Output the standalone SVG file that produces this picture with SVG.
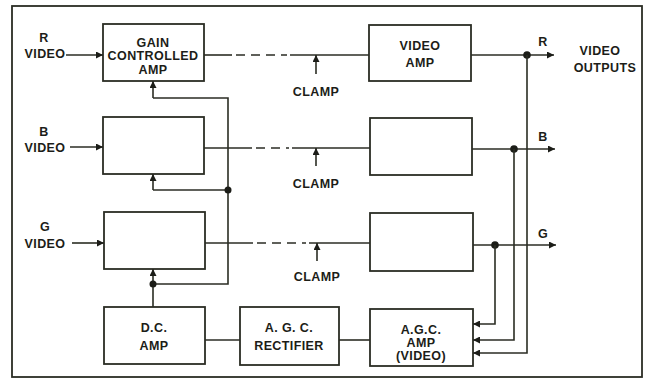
<svg xmlns="http://www.w3.org/2000/svg" width="646" height="379" viewBox="0 0 646 379">
<defs>
<style>
.box{fill:none;stroke:#2b2d24;stroke-width:1.8}
.ln{fill:none;stroke:#2b2d24;stroke-width:1.6}
.dash{fill:none;stroke:#2b2d24;stroke-width:1.6;stroke-dasharray:9 6}
.t{font-family:"Liberation Sans",Arial,sans-serif;font-weight:bold;font-size:12.5px;fill:#1c1d18;text-anchor:middle;letter-spacing:0.4px}
.dot{fill:#1c1d18}
</style>
<marker id="ah" viewBox="0 0 10 10" refX="10" refY="5" markerWidth="8" markerHeight="7" markerUnits="userSpaceOnUse" orient="auto">
<path d="M0,0 L10,5 L0,10 Z" fill="#1c1d18"/>
</marker>
</defs>
<rect x="0" y="0" width="646" height="379" fill="#ffffff"/>
<rect x="12" y="6" width="630" height="371" class="box" stroke-width="1.5"/>

<g id="gain-amp-r">
<rect x="103" y="24" width="101" height="57" class="box"/>
<text class="t" x="153" y="47">GAIN</text>
<text class="t" x="153" y="60">CONTROLLED</text>
<text class="t" x="153" y="74">AMP</text>
</g>
<g id="gain-amp-b"><rect x="103" y="117" width="101" height="57" class="box"/></g>
<g id="gain-amp-g"><rect x="104" y="212" width="101" height="57" class="box"/></g>
<g id="dc-amp">
<rect x="104" y="307" width="101" height="57" class="box"/>
<text class="t" x="154" y="332">D.C.</text>
<text class="t" x="154" y="350">AMP</text>
</g>
<g id="agc-rectifier">
<rect x="240" y="307" width="99" height="58" class="box"/>
<text class="t" x="289" y="332">A. G. C.</text>
<text class="t" x="289" y="350">RECTIFIER</text>
</g>
<g id="agc-amp">
<rect x="370" y="309" width="103" height="57" class="box"/>
<text class="t" x="421" y="334">A.G.C.</text>
<text class="t" x="421" y="347">AMP</text>
<text class="t" x="421" y="360">(VIDEO)</text>
</g>
<g id="video-amp-r">
<rect x="369" y="25" width="102" height="56" class="box"/>
<text class="t" x="420" y="50">VIDEO</text>
<text class="t" x="420" y="67">AMP</text>
</g>
<g id="video-amp-b"><rect x="370" y="118" width="102" height="57" class="box"/></g>
<g id="video-amp-g"><rect x="370" y="213" width="103" height="58" class="box"/></g>

<g id="labels">
<text class="t" x="44" y="42">R</text>
<text class="t" x="45" y="58">VIDEO</text>
<text class="t" x="44" y="136">B</text>
<text class="t" x="45" y="152">VIDEO</text>
<text class="t" x="45" y="231">G</text>
<text class="t" x="45" y="248">VIDEO</text>
<text class="t" x="316" y="96">CLAMP</text>
<text class="t" x="316" y="188">CLAMP</text>
<text class="t" x="317" y="281">CLAMP</text>
<text class="t" x="543" y="46">R</text>
<text class="t" x="543" y="141">B</text>
<text class="t" x="543" y="238">G</text>
<text class="t" x="600" y="55">VIDEO</text>
<text class="t" x="605" y="72">OUTPUTS</text>
</g>

<g id="connectors">
<line class="ln" x1="66" y1="55" x2="103" y2="55" marker-end="url(#ah)"/>
<line class="ln" x1="70" y1="147" x2="103" y2="147" marker-end="url(#ah)"/>
<line class="ln" x1="72" y1="243" x2="104" y2="243" marker-end="url(#ah)"/>
<line class="ln" x1="204" y1="55" x2="232" y2="55"/>
<line class="dash" x1="236" y1="55" x2="287" y2="55"/>
<line class="ln" x1="290" y1="55" x2="369" y2="55"/>
<line class="ln" x1="316" y1="74" x2="316" y2="55" marker-end="url(#ah)"/>
<line class="ln" x1="204" y1="148" x2="252" y2="148"/>
<line class="dash" x1="256" y1="148" x2="289" y2="148"/>
<line class="ln" x1="292" y1="148" x2="370" y2="148"/>
<line class="ln" x1="316" y1="166" x2="316" y2="148" marker-end="url(#ah)"/>
<line class="ln" x1="205" y1="243" x2="253" y2="243"/>
<line class="dash" x1="257" y1="243" x2="306" y2="243"/>
<line class="ln" x1="309" y1="243" x2="370" y2="243"/>
<line class="ln" x1="317" y1="261" x2="317" y2="243" marker-end="url(#ah)"/>
<polyline class="ln" points="153,307 153,284 228,284 228,98 153,98"/>
<line class="ln" x1="153" y1="98" x2="153" y2="81" marker-end="url(#ah)"/>
<polyline class="ln" points="228,190 153,190"/>
<line class="ln" x1="153" y1="190" x2="153" y2="174" marker-end="url(#ah)"/>
<line class="ln" x1="153" y1="284" x2="153" y2="269" marker-end="url(#ah)"/>
<circle class="dot" cx="228" cy="190" r="3.5"/>
<circle class="dot" cx="153" cy="284" r="3.5"/>
<line class="ln" x1="205" y1="340" x2="240" y2="340"/>
<line class="ln" x1="339" y1="340" x2="370" y2="340"/>
<line class="ln" x1="471" y1="55" x2="554" y2="55" marker-end="url(#ah)"/>
<line class="ln" x1="472" y1="149" x2="555" y2="149" marker-end="url(#ah)"/>
<line class="ln" x1="473" y1="245" x2="556" y2="245" marker-end="url(#ah)"/>
<circle class="dot" cx="527" cy="55" r="3.8"/>
<circle class="dot" cx="514" cy="149" r="3.8"/>
<circle class="dot" cx="495" cy="245" r="3.8"/>
<polyline class="ln" points="527,55 527,353 473,353" marker-end="url(#ah)"/>
<polyline class="ln" points="514,149 514,340 473,340" marker-end="url(#ah)"/>
<polyline class="ln" points="495,245 495,324 473,324" marker-end="url(#ah)"/>
</g>
</svg>
